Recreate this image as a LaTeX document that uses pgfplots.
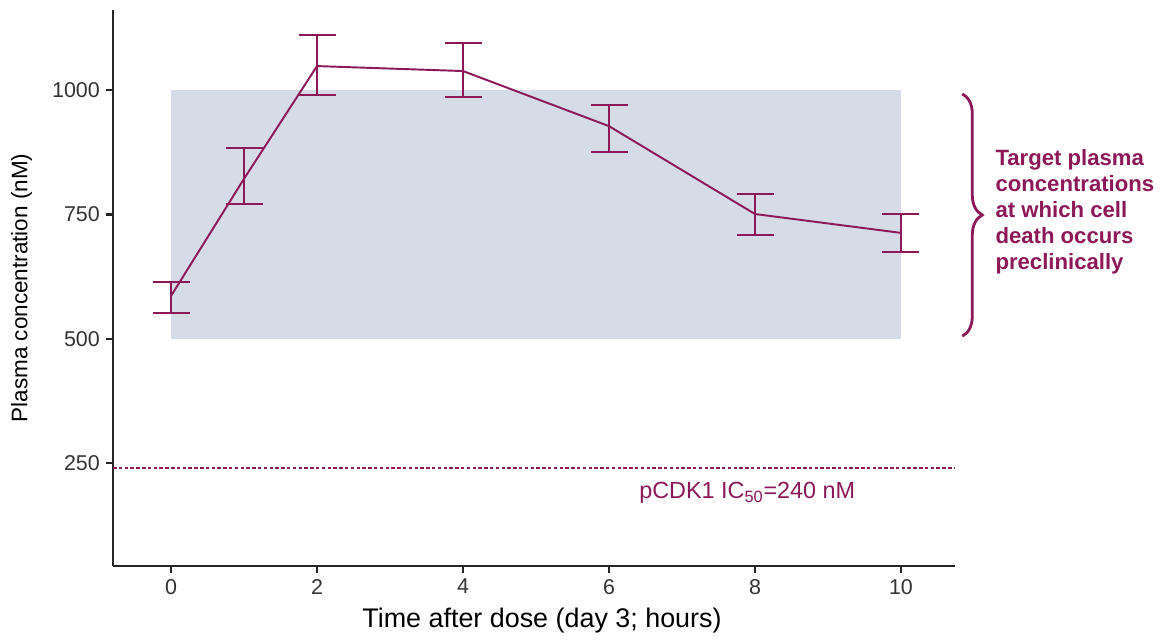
\documentclass[border=0pt]{standalone}
\usepackage{fontspec}
\setmainfont{Liberation Sans}
\usepackage{pgfplots}
\pgfplotsset{compat=1.18}
\usetikzlibrary{decorations.pathreplacing}
\definecolor{mag}{RGB}{140,24,88}
\definecolor{band}{RGB}{213,219,231}

\begin{document}
\begin{tikzpicture}
\begin{axis}[
  scale only axis,
  width=16.84cm, height=11.12cm,
  xmin=-0.795, xmax=10.74, ymin=42, ymax=1162,
  axis lines=left,
  axis line style={-, line width=1.4pt, black!85},
  xtick={0,2,...,10}, ytick={250,500,750,1000},
  tick style={line width=1.2pt, black!85},
  tick align=outside,
  major tick length=0.14cm,
  tick label style={font=\fontsize{12.2}{14}\selectfont, text=black!80},
  /pgf/number format/assume math mode=true,
  /pgf/number format/1000 sep={},
  xlabel={Time after dose (day 3; hours)},
  ylabel={Plasma concentration (nM)},
  xlabel style={font=\fontsize{15.3}{17}\selectfont, yshift=-1pt, xshift=0.16cm},
  ylabel style={font=\fontsize{12.8}{15}\selectfont, yshift=4.5pt},
  clip=false,
]
% target band
\addplot[fill=band, draw=none, forget plot] coordinates {(0,500) (10,500) (10,1000) (0,1000)} -- cycle;

% IC50 line
\addplot[mag, line width=1.3pt, dash pattern=on 2pt off 1.3pt] coordinates {(-0.795,240) (10.74,240)};

% mean concentration with error bars
\addplot[mag, line width=1.1pt, mark=none,
  error bars/.cd, y dir=both, y explicit,
  error bar style={line width=1.1pt, mag},
  error mark options={rotate=90, mark size=0.37cm, line width=1.1pt, mag}]
coordinates {
  (0,586)  += (0,28) -= (0,35)
  (1,822)  += (0,62) -= (0,51)
  (2,1049) += (0,62) -= (0,59)
  (4,1039) += (0,57) -= (0,52)
  (6,928)  += (0,43) -= (0,52)
  (8,751)  += (0,41) -= (0,42)
  (10,713) += (0,38) -= (0,38)
};

\node[anchor=west, text=mag, font=\fontsize{13.3}{15}\selectfont] at (axis cs:6.33,190) {pCDK1 IC\textsubscript{50}=240 nM};

\draw[mag, line width=1.6pt, decorate, decoration={brace, amplitude=0.4cm}] (axis cs:10.84,993) -- (axis cs:10.84,505);
\node[anchor=west, align=left, text=mag, font=\bfseries\fontsize{12.6}{14.8}\selectfont] at (axis cs:11.21,755)
  {Target plasma\\concentrations\\at which cell\\death occurs\\preclinically};
\end{axis}
\pgfresetboundingbox
\path[use as bounding box] (-2.26,-1.56) rectangle (20.98,11.32);
\end{tikzpicture}
\end{document}
